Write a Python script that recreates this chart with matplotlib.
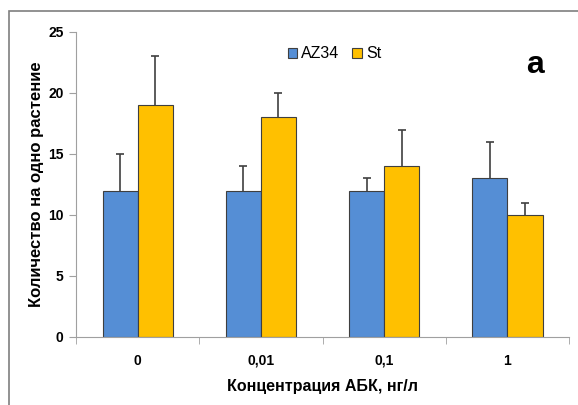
import matplotlib.pyplot as plt
import numpy as np
from matplotlib.patches import Rectangle

categories = ['0', '0,01', '0,1', '1']
az34 = [12, 12, 12, 13]
az34_err = [3, 2, 1, 3]
st = [19, 18, 14, 10]
st_err = [4, 2, 3, 1]

plt.rcParams['font.family'] = ['Liberation Sans', 'DejaVu Sans']

fig = plt.figure(figsize=(5.78, 4.05), dpi=100)
ax = fig.add_axes([0.1315, 0.168, 0.853, 0.753])

# рамка вокруг рисунка (скан)
fig.patches.append(Rectangle((9 / 578, -0.1), 1.2, 1 - 11 / 405 + 0.1, transform=fig.transFigure,
                             fill=False, edgecolor='#7f7f7f', lw=1.2))

x = np.arange(len(categories))
w = 0.285
err_kw = dict(ecolor='#404040', elinewidth=1.2, capsize=3, capthick=1.2)
b1 = ax.bar(x - w / 2, az34, w, color='#558ed5', edgecolor='#3f3f3f', lw=0.8, label='AZ34',
            yerr=[np.zeros(4), az34_err], error_kw=err_kw)
b2 = ax.bar(x + w / 2, st, w, color='#ffc000', edgecolor='#3f3f3f', lw=0.8, label='St',
            yerr=[np.zeros(4), st_err], error_kw=err_kw)
# только верхние усы
for b in (b1, b2):
    caps = b.errorbar.lines[1]
    caps[0].set_visible(False)

ax.set_xlim(-0.5, 3.5)
ax.set_ylim(0, 25)
ax.set_yticks([0, 5, 10, 15, 20, 25])
ax.set_xticks(x)
ax.set_xticklabels(categories)
ax.set_xticks(np.arange(-0.5, 4, 1), minor=True)
ax.tick_params(axis='x', which='major', length=0, pad=12)
ax.tick_params(axis='x', which='minor', length=5, color='#a0a0a0')
ax.tick_params(axis='y', length=5, color='#a0a0a0', pad=4)
for lab in ax.get_xticklabels() + ax.get_yticklabels():
    lab.set_fontsize(10)
    lab.set_fontweight('bold')

for s in ['top', 'right']:
    ax.spines[s].set_visible(False)
ax.spines['left'].set_color('#a0a0a0')
ax.spines['bottom'].set_color('#a0a0a0')

ax.set_xlabel('Концентрация АБК, нг/л', fontsize=11.5, fontweight='bold', labelpad=8)
ax.set_ylabel('Количество на одно растение', fontsize=12, fontweight='bold', labelpad=3)

ax.legend(loc='upper left', bbox_to_anchor=(0.4, 1.0), ncol=2, frameon=False,
          prop={'size': 11.5}, handlelength=0.6, handleheight=0.6,
          handletextpad=0.25, columnspacing=0.8)
ax.text(0.93, 0.865, 'a', transform=ax.transAxes, fontsize=23, fontweight='bold', ha='center')

fig.savefig('out.png', dpi=100)
